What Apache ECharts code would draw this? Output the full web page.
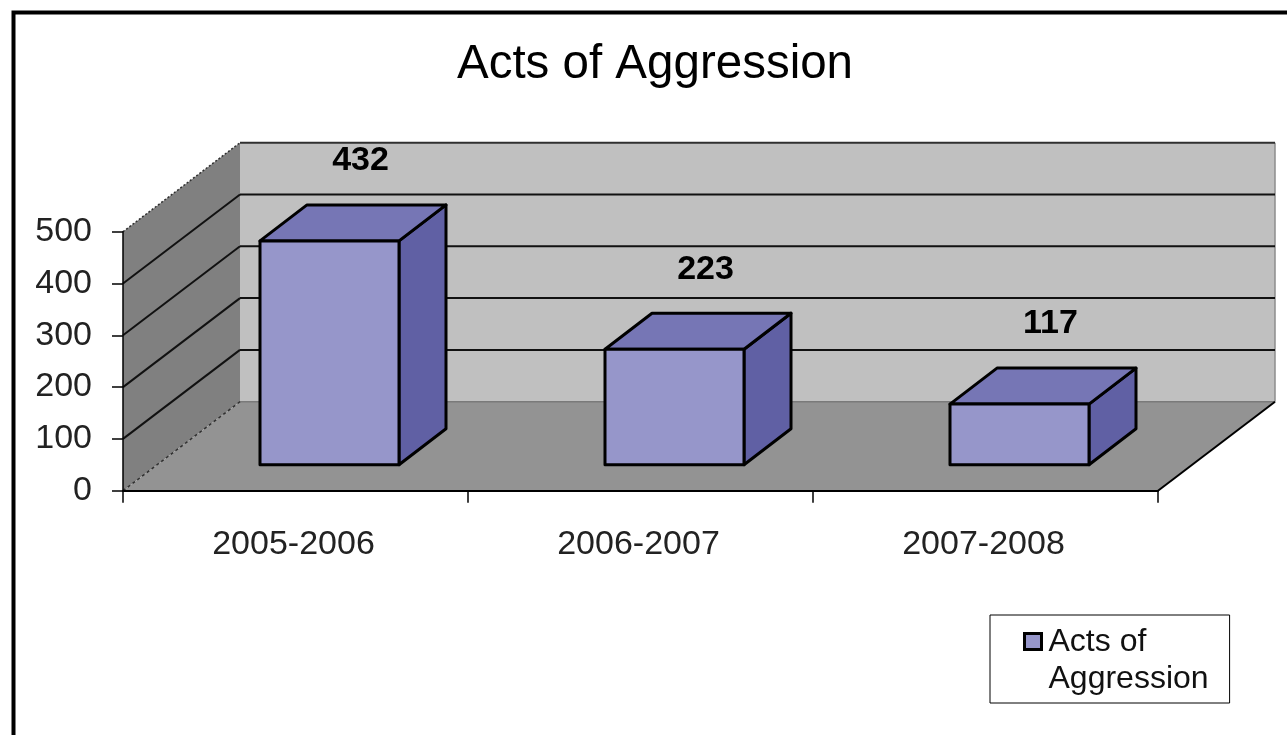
<!DOCTYPE html>
<html><head><meta charset="utf-8">
<style>html,body{margin:0;padding:0;background:#fff;overflow:hidden}#c{width:1287px;height:735px}</style>
<script src="https://cdn.jsdelivr.net/npm/echarts@6/dist/echarts.min.js"></script>
</head><body><div id="c"></div>
<script>
const categories = ['2005-2006', '2006-2007', '2007-2008'];
const seriesName = 'Acts of Aggression';
const values = [432, 223, 117];
const yTicks = [0, 100, 200, 300, 400, 500];

const FONT = '"Liberation Sans", Arial, sans-serif';
const BACK = [117, -89], PLANE = [34, -26], BAR = [47, -36];
const BAR_W = 139;
const LBL = [65, -106];

const chart = echarts.init(document.getElementById('c'), null, {renderer: 'canvas'});

function poly(points, fill, stroke, lw, extra) {
  return {type: 'polygon', shape: {points}, style: Object.assign({fill, stroke: stroke || 'none', lineWidth: lw || 0, lineJoin: 'round'}, extra || {})};
}
function line(x1, y1, x2, y2, stroke, lw, dash) {
  return {type: 'line', shape: {x1, y1, x2, y2}, style: {stroke, lineWidth: lw, lineDash: dash || null, fill: null}};
}

function renderWalls(params, api) {
  const g = params.coordSys;
  const L = g.x, R = g.x + g.width, B = g.y + g.height, T = g.y;
  const dx = BACK[0], dy = BACK[1];
  const kids = [
    poly([[L + dx, T + dy], [R + dx, T + dy], [R + dx, B + dy], [L + dx, B + dy]], '#C0C0C0'),
    poly([[L, T], [L + dx, T + dy], [L + dx, B + dy], [L, B]], '#808080'),
    poly([[L, B], [R, B], [R + dx, B + dy], [L + dx, B + dy]], '#939393'),
    line(L + dx, B + dy, R + dx, B + dy, '#7a7a7a', 1.5),
    line(R + dx, T + dy, R + dx, B + dy, '#8c8c8c', 1.5),
    line(L + dx, T + dy, R + dx, T + dy, '#303030', 2),
    line(L, T, L + dx, T + dy, '#303030', 1.5, [2, 2]),
    line(L, B, L + dx, B + dy, '#303030', 1.5, [3, 3]),
    line(R, B, R + dx, B + dy, '#000', 2)
  ];
  yTicks.slice(1, -1).forEach(t => {
    const y = api.coord([0, t])[1];
    kids.push(line(L, y, L + dx, y + dy, '#111', 2));
    kids.push(line(L + dx, y + dy, R + dx, y + dy, '#111', 2));
  });
  return {type: 'group', children: kids};
}

function renderBar(params, api) {
  const top = api.coord([api.value(0), api.value(1)]);
  const base = api.coord([api.value(0), 0]);
  const x0 = top[0] + PLANE[0] - BAR_W / 2, x1 = x0 + BAR_W;
  const yT = top[1] + PLANE[1], yB = base[1] + PLANE[1];
  const bx = BAR[0], by = BAR[1];
  return {type: 'group', children: [
    poly([[x1, yT], [x1 + bx, yT + by], [x1 + bx, yB + by], [x1, yB]], '#6060A4', '#000', 3),
    poly([[x0, yT], [x0 + bx, yT + by], [x1 + bx, yT + by], [x1, yT]], '#7676B5', '#000', 3),
    poly([[x0, yT], [x1, yT], [x1, yB], [x0, yB]], '#9696CA', '#000', 3),
    {type: 'text', style: {
      text: String(api.value(1)), x: top[0] + LBL[0], y: top[1] + LBL[1],
      fill: '#000', font: 'bold 34px ' + FONT, align: 'center', verticalAlign: 'middle'
    }}
  ]};
}

chart.setOption({
  animation: false,
  backgroundColor: '#fff',
  title: {
    text: seriesName, left: 650, top: 36, textAlign: 'center',
    textStyle: {fontFamily: FONT, fontSize: 47.5, fontWeight: 'normal', color: '#000'}
  },
  legend: {
    data: [seriesName], left: 990, top: 615, orient: 'vertical',
    padding: [9, 21, 5, 33], borderColor: '#000', borderWidth: 1, backgroundColor: '#fff',
    selectedMode: false, itemWidth: 19, itemHeight: 55, itemGap: 0,
    icon: 'path://M0 0H17V16H0ZM19 55',
    itemStyle: {color: '#9696CA', borderColor: '#000', borderWidth: 3},
    formatter: () => 'Acts of\nAggression',
    textStyle: {fontFamily: FONT, fontSize: 32, color: '#111', lineHeight: 37}
  },
  grid: {left: 123, top: 231.7, width: 1035, height: 259},
  xAxis: {
    type: 'category', data: categories, z: 6,
    axisLine: {lineStyle: {color: '#000', width: 2}},
    axisTick: {show: true, length: 12, lineStyle: {color: '#000', width: 1.5}},
    axisLabel: {fontFamily: FONT, fontSize: 34, color: '#222', margin: 37, padding: [0, 4, 0, 0]},
    splitLine: {show: false}
  },
  yAxis: {
    type: 'value', min: 0, max: 500, interval: 100, z: 6,
    axisLine: {show: true, lineStyle: {color: '#000', width: 1.5}},
    axisTick: {show: true, length: 11, lineStyle: {color: '#000', width: 1.5}},
    axisLabel: {fontFamily: FONT, fontSize: 34, color: '#222', margin: 31},
    splitLine: {show: false}
  },
  graphic: [{
    type: 'polyline', z: 100, silent: true,
    shape: {points: [[13.5, 735], [13.5, 12.5], [1287, 12.5]]},
    style: {stroke: '#000', lineWidth: 4, fill: null}
  }],
  series: [
    {type: 'custom', name: 'walls', coordinateSystem: 'cartesian2d', z: 1, silent: true,
     data: [[0, 0]], encode: {x: 0, y: 1}, renderItem: renderWalls, tooltip: {show: false}},
    {type: 'custom', name: seriesName, coordinateSystem: 'cartesian2d', z: 3,
     data: values.map((v, i) => [i, v]), encode: {x: 0, y: 1}, renderItem: renderBar,
     itemStyle: {color: '#9696CA'}}
  ]
});
</script></body></html>
